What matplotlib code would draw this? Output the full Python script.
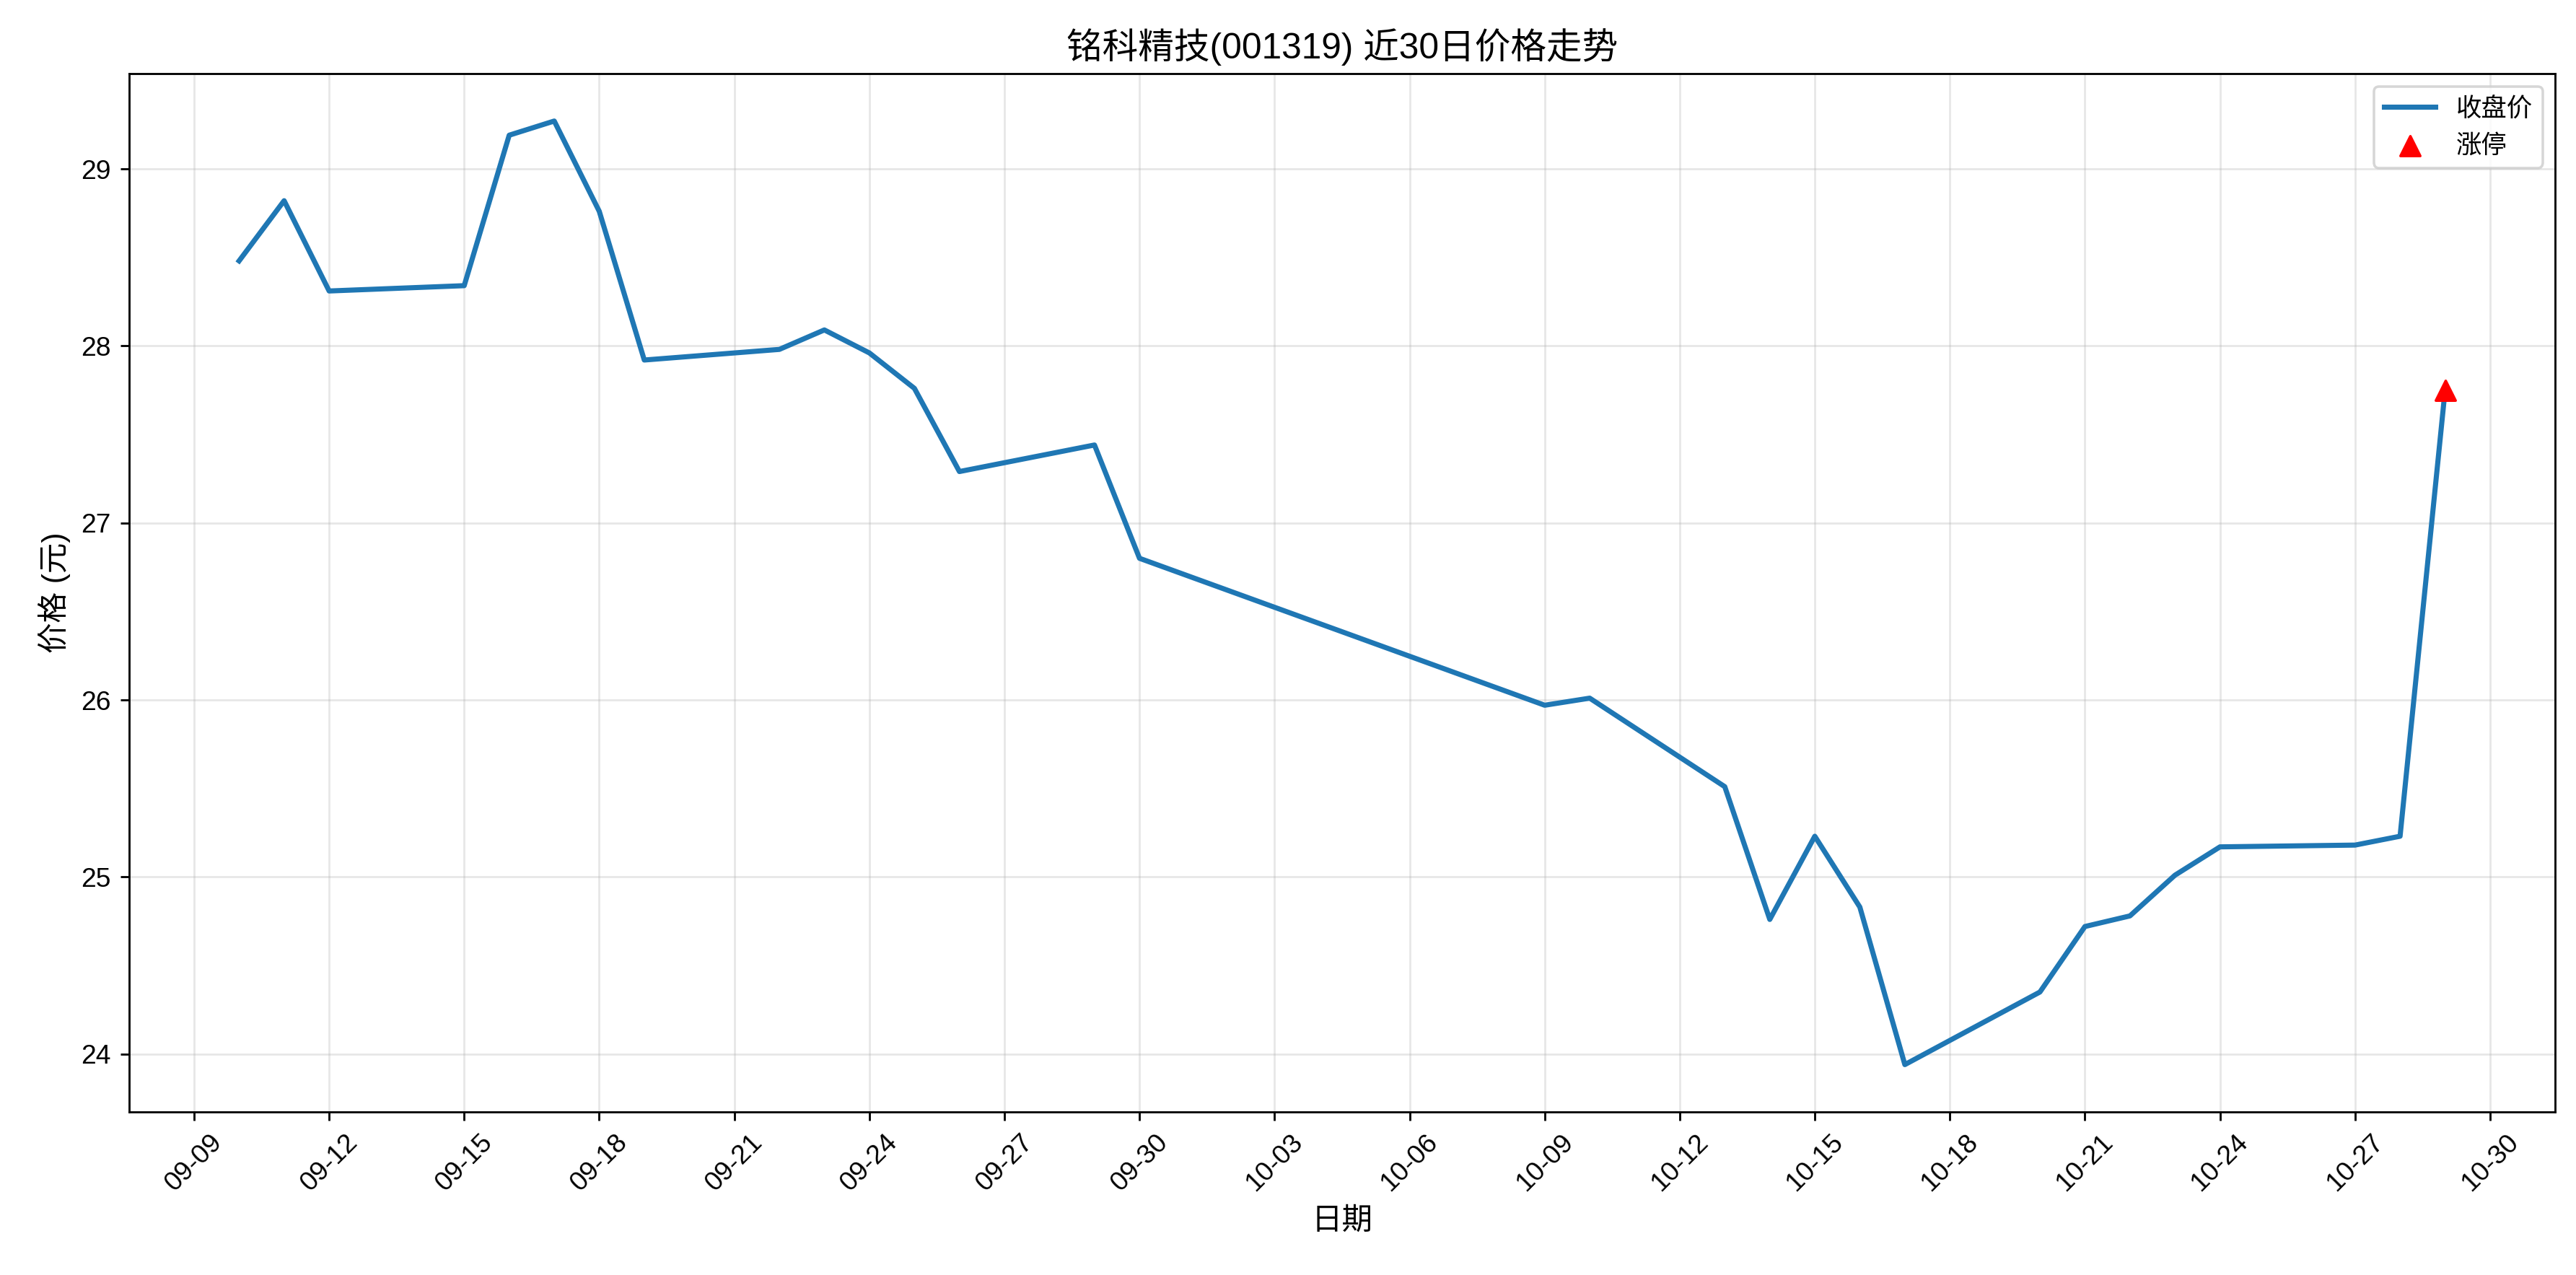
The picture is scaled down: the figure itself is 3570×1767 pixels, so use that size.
import matplotlib
matplotlib.use("Agg")
import matplotlib.pyplot as plt
import matplotlib.dates as mdates
import pandas as pd

plt.rcParams['font.family'] = ['Liberation Sans', 'Noto Sans CJK SC', 'DejaVu Sans']
plt.rcParams['axes.unicode_minus'] = False

dates = ["09-10", "09-11", "09-12", "09-15", "09-16", "09-17", "09-18", "09-19",
         "09-22", "09-23", "09-24", "09-25", "09-26", "09-29", "09-30",
         "10-09", "10-10", "10-13", "10-14", "10-15", "10-16", "10-17",
         "10-20", "10-21", "10-22", "10-23", "10-24", "10-27", "10-28", "10-29"]
close = [28.48, 28.82, 28.31, 28.34, 29.19, 29.27, 28.76, 27.92,
         27.98, 28.09, 27.96, 27.76, 27.29, 27.44, 26.80,
         25.97, 26.01, 25.51, 24.76, 25.23, 24.83, 23.94,
         24.35, 24.72, 24.78, 25.01, 25.17, 25.18, 25.23, 27.75]
limit_up_dates = ["10-29"]
limit_up_prices = [27.75]

x = pd.to_datetime(["2025-" + d for d in dates])
xu = pd.to_datetime(["2025-" + d for d in limit_up_dates])

fig, ax = plt.subplots(figsize=(14, 6.93), dpi=255)
ax.plot(x, close, color="#1f77b4", linewidth=2, label="收盘价")
ax.scatter(xu, limit_up_prices, color="red", marker="^", s=60, zorder=5, label="涨停")

ax.set_title("铭科精技(001319) 近30日价格走势", fontsize=14)
ax.set_xlabel("日期", fontsize=12)
ax.set_ylabel("价格 (元)", fontsize=12)
ax.set_xticks(pd.date_range("2025-09-09", "2025-10-30", freq="3D"))
ax.xaxis.set_major_formatter(mdates.DateFormatter("%m-%d"))
ax.tick_params(labelsize=10.5)
plt.setp(ax.get_xticklabels(), rotation=45)
ax.grid(True, alpha=0.3)
ax.legend(loc="upper right")
fig.subplots_adjust(left=0.050, right=0.992, top=0.942, bottom=0.128)
fig.savefig("out.png", dpi=255)
